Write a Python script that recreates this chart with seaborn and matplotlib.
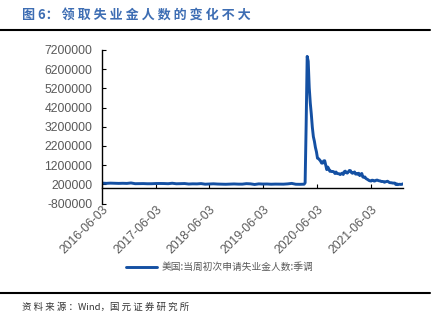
import numpy as np
import pandas as pd
import matplotlib
matplotlib.use("Agg")
import matplotlib.pyplot as plt
from matplotlib.lines import Line2D
import seaborn as sns

# ---- data ----
# pre-pandemic values, every 4 weeks from 2016-06-04
pre_values = [268000, 254000, 266000, 261000, 252000, 258000, 251000, 275000,
              237000, 239000, 243000, 234000, 236000, 245000, 248000, 245000, 236000, 260000, 233000, 239000, 245000,
              220000, 230000, 226000, 242000, 211000, 221000, 231000, 218000, 213000, 207000, 215000, 224000, 214000,
              213000, 239000, 229000, 196000, 228000, 218000, 221000, 209000, 216000, 214000, 212000, 227000, 252000,
              207000, 204000, 211000]
pre_start = "2016-06-04"
# weekly values from 2020-03-14
post_values = [282000, 3307000, 6867000, 6615000, 5237000, 4442000, 3867000, 3176000, 2687000, 2446000,
               2123000, 1897000, 1566000, 1540000, 1482000, 1413000, 1310000, 1307000, 1422000, 1435000,
               1191000, 971000, 1104000, 1006000, 881000, 893000, 866000, 873000, 849000, 767000,
               845000, 770000, 758000, 757000, 711000, 748000, 787000, 716000, 862000, 892000,
               806000, 790000, 859000, 926000, 914000, 812000, 779000, 812000, 848000, 736000,
               766000, 725000, 781000, 658000, 728000, 769000, 586000, 566000, 590000, 507000,
               478000, 444000, 405000, 385000, 375000, 418000, 411000, 373000, 385000, 419000,
               424000, 400000, 385000, 377000, 349000, 354000, 345000, 312000, 335000, 351000,
               364000, 326000, 293000, 290000, 283000, 269000, 267000, 268000, 194000, 227000,
               188000, 205000, 205000, 198000, 207000, 230000]
post_start = "2020-03-14"
tick_dates = ["2016-06-03", "2017-06-03", "2018-06-03", "2019-06-03", "2020-06-03", "2021-06-03"]
y_ticks = [-800000, 200000, 1200000, 2200000, 3200000, 4200000, 5200000, 6200000, 7200000]
series_name = "美国:当周初次申请失业金人数:季调"
title = "图 6：领取失业金人数的变化不大"
source = "资料来源：Wind，国元证券研究所"

dates = list(pd.date_range(pre_start, periods=len(pre_values), freq="28D")) + \
        list(pd.date_range(post_start, periods=len(post_values), freq="7D"))
df = pd.DataFrame({"date": dates, "value": pre_values + post_values})

sns.set_theme(style="white")
plt.rcParams["font.family"] = ["Liberation Sans", "Noto Sans CJK SC", "DejaVu Sans"]

W, H = 439, 321
fig = plt.figure(figsize=(W / 100, H / 100), dpi=100)
ax = fig.add_axes([102 / W, 1 - 203.6 / H, (403 - 102) / W, 153.6 / H])

line_color = "#1450a3"
sns.lineplot(data=df, x="date", y="value", ax=ax, color=line_color, linewidth=2.1, label=series_name)

for s in ["top", "right"]:
    ax.spines[s].set_visible(False)
ax.spines["bottom"].set_position(("data", 0))
ax.spines["bottom"].set_color("black")
ax.spines["bottom"].set_linewidth(1.0)
ax.spines["left"].set_color("black")
ax.spines["left"].set_linewidth(1.0)

ax.set_ylim(-800000, 7200000)
ax.set_xlim(pd.Timestamp(tick_dates[0]), pd.Timestamp("2022-01-08"))
ax.set_yticks(y_ticks)
ax.set_xticks([pd.Timestamp(d) for d in tick_dates])
ax.tick_params(axis="y", direction="in", length=3, width=0.8, color="black",
               labelsize=8.8, labelcolor="#595959", pad=7, left=True)
ax.tick_params(axis="x", direction="in", length=3, width=0.8, color="black",
               labelsize=8.8, labelcolor="#595959", pad=11, bottom=True)
ax.set_yticklabels([str(v) for v in y_ticks])
ax.set_xticklabels(tick_dates, rotation=45, ha="right", va="top", rotation_mode="anchor")
ax.set_xlabel("")
ax.set_ylabel("")

leg = ax.legend(loc="center", bbox_to_anchor=(0.5, 0.168), bbox_transform=fig.transFigure,
                frameon=False, handlelength=3.2, fontsize=7, borderpad=0, handletextpad=0.5)
for t in leg.get_texts():
    t.set_color("#595959")
    t.set_family(["Noto Sans CJK SC", "DejaVu Sans"])
for h in leg.get_lines():
    h.set_linewidth(2.1)

title_disp = "图 6： " + " ".join(list(title.split("：")[1]))
fig.text(22 / W, 1 - 16 / H, title_disp, color="#3d6db3", fontsize=9.4, fontweight="bold",
         va="center", ha="left", family=["Noto Sans CJK SC", "DejaVu Sans"])
fig.add_artist(Line2D([0, 430 / W], [1 - 29.5 / H] * 2, color="black", lw=1.5))
fig.add_artist(Line2D([0, 430 / W], [1 - 293 / H] * 2, color="black", lw=1.5))
source_disp = " ".join(list("资料来源：")) + "Wind，" + " ".join(list("国元证券研究所"))
fig.text(22 / W, 1 - 307 / H, source_disp, color="#333333", fontsize=6.8, va="center", ha="left",
         family=["Noto Sans CJK SC", "DejaVu Sans"])

fig.savefig("out.png", dpi=100)
